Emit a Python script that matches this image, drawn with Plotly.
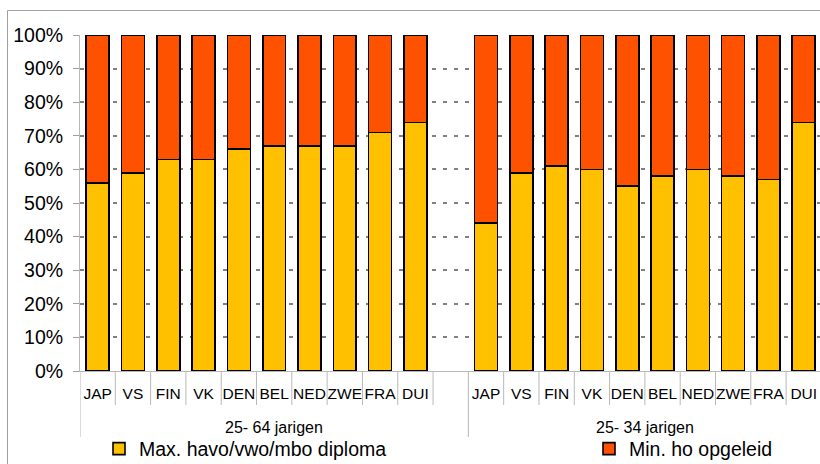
import plotly.graph_objects as go

countries = ["JAP", "VS", "FIN", "VK", "DEN", "BEL", "NED", "ZWE", "FRA", "DUI"]
groups = ["25- 64 jarigen", "25- 34 jarigen"]
max_havo_25_64 = [56, 59, 63, 63, 66, 67, 67, 67, 71, 74]
max_havo_25_34 = [44, 59, 61, 60, 55, 58, 60, 58, 57, 74]
series_names = ["Max. havo/vwo/mbo diploma", "Min. ho opgeleid"]
y_ticks = [0, 10, 20, 30, 40, 50, 60, 70, 80, 90, 100]

YELLOW = "#FFC000"
ORANGE = "#FF5200"
FONT = "Liberation Sans, Arial, sans-serif"

n = len(countries)
x1 = list(range(n))
x2 = [i + n + 1 for i in range(n)]
xs = x1 + x2
low = max_havo_25_64 + max_havo_25_34
high = [100 - v for v in low]

fig = go.Figure()
fig.add_trace(go.Bar(x=xs, y=low, name=series_names[0], width=0.65, legendwidth=445,
                     marker=dict(color=YELLOW, line=dict(color="#000000", width=1.6))))
fig.add_trace(go.Bar(x=xs, y=high, name=series_names[1], width=0.65, legendwidth=150,
                     marker=dict(color=ORANGE, line=dict(color="#000000", width=1.6))))

L, T, B = 80, 35, 93
W, H = 820, 464
ph = H - T - B

def py(pix):
    return (H - B - pix) / ph

shapes = []
# short separators between categories
for k in range(2 * n):
    bx = k + 0.5
    if bx == n + 0.5:
        continue
    shapes.append(dict(type="line", xref="x", yref="paper", x0=bx, x1=bx,
                       y0=0, y1=py(405), line=dict(color="#b8b8b8", width=1)))
# long group separators
for bx in [-0.5, n + 0.5]:
    shapes.append(dict(type="line", xref="x", yref="paper", x0=bx, x1=bx,
                       y0=0, y1=py(437), line=dict(color="#b8b8b8", width=1)))
# outer frame
pw = W - L
shapes.append(dict(type="rect", xref="paper", yref="paper",
                   x0=(7.5 - L) / pw, x1=1.2, y0=-0.6, y1=py(10.5),
                   line=dict(color="#a0a0a0", width=1), fillcolor="rgba(0,0,0,0)", layer="below"))

annotations = []
for gi, g in enumerate(groups):
    cx = (n - 1) / 2 + 0.5 if gi == 0 else (n + 1) + (n - 1) / 2
    annotations.append(dict(text=g, xref="x", yref="paper", x=cx, y=py(427),
                            showarrow=False, xanchor="center", yanchor="middle",
                            font=dict(family=FONT, size=16, color="#000000")))

fig.update_layout(
    width=W, height=H,
    margin=dict(l=L, r=0, t=T, b=B, pad=0, autoexpand=False),
    barmode="stack",
    plot_bgcolor="#ffffff", paper_bgcolor="#ffffff",
    font=dict(family=FONT, color="#000000"),
    shapes=shapes, annotations=annotations,
    legend=dict(orientation="h", x=(99 - L) / pw, xanchor="left", y=py(449), yanchor="middle",
                font=dict(family=FONT, size=19.5, color="#000000"),
                entrywidthmode="pixels", bgcolor="rgba(0,0,0,0)",
                traceorder="normal"),
    xaxis=dict(range=[-0.5, 2 * n + 0.5 - 0.04], tickmode="array", tickvals=xs,
               ticktext=countries + countries, showgrid=False, zeroline=False,
               showline=True, linecolor="#b8b8b8", linewidth=1, ticks="", tickangle=0,
               ticklabelstandoff=8,
               tickfont=dict(family=FONT, size=15.5, color="#000000")),
    yaxis=dict(range=[0, 100], tickmode="array", tickvals=y_ticks,
               ticktext=[f"{v}%" for v in y_ticks], showgrid=True,
               gridcolor="#808080", gridwidth=1.5, griddash="4px,7px",
               zeroline=False, showline=True, linecolor="#b8b8b8", linewidth=1,
               ticks="outside", ticklen=6, tickcolor="#a0a0a0", ticklabelstandoff=6,
               tickfont=dict(family=FONT, size=19.5, color="#000000")),
)

fig.write_html("out.html", config={"displayModeBar": False},
               post_script="document.body.style.margin='0';")
